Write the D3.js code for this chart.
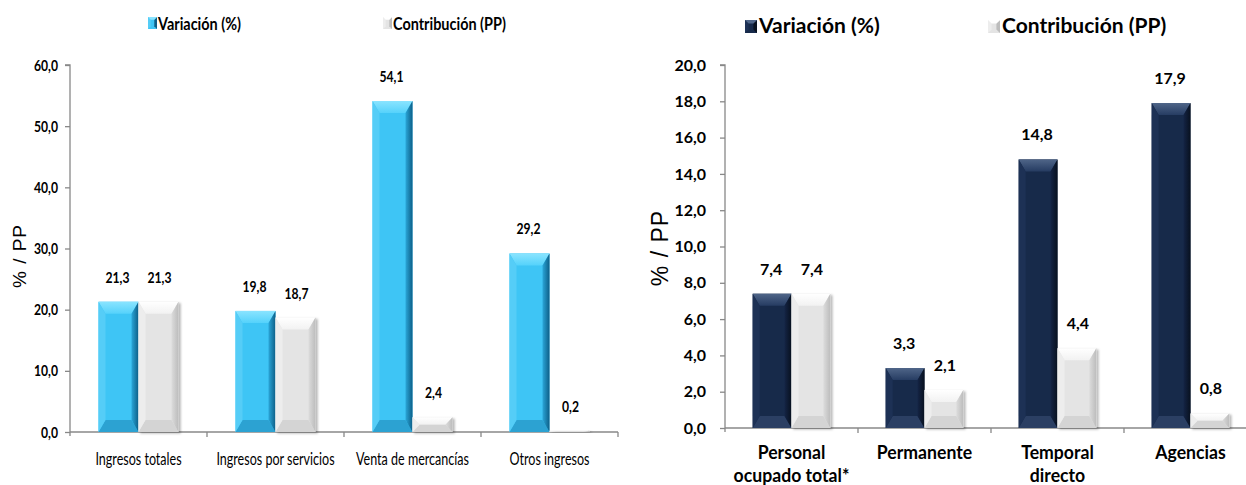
<!DOCTYPE html>
<html><head><meta charset="utf-8">
<script src="https://cdn.jsdelivr.net/npm/d3@7/dist/d3.min.js"></script>
<style>
html,body{margin:0;padding:0;background:#fff;}
svg{display:block;}
</style></head>
<body>
<svg id="chart" width="1246" height="485"></svg>
<script>
// ---- Data ----
const seriesNames = ["Variación (%)", "Contribución (PP)"];
const leftCategories = ["Ingresos totales", "Ingresos por servicios", "Venta de mercancías", "Otros ingresos"];
const leftVariacion = [21.3, 19.8, 54.1, 29.2];
const leftContribucion = [21.3, 18.7, 2.4, 0.2];
const leftTicks = [0, 10, 20, 30, 40, 50, 60];

const rightCategories = [["Personal", "ocupado total*"], ["Permanente"], ["Temporal", "directo"], ["Agencias"]];
const rightVariacion = [7.4, 3.3, 14.8, 17.9];
const rightContribucion = [7.4, 2.1, 4.4, 0.8];
const rightTicks = [0, 2, 4, 6, 8, 10, 12, 14, 16, 18, 20];

const yTitle = "% / PP";

// ---- Setup ----
const svg = d3.select("#chart");
const defs = svg.append("defs");
const fmt = v => d3.format(".1f")(v).replace(".", ",");

const f = defs.append("filter").attr("id", "shadow").attr("x", "-20%").attr("y", "-20%").attr("width", "150%").attr("height", "150%");
f.append("feDropShadow").attr("dx", 2).attr("dy", 1.5).attr("stdDeviation", 1.2).attr("flood-color", "#000").attr("flood-opacity", 0.28);

const palettes = {
  blue: {mid: "#3ec5f5", top: "#8ae4ff", top2: "#55d2fb", left: "#55cdf7", right: "#0d5f88", right2: "#2aa6d8", bottom: "#2ca2d2"},
  navy: {mid: "#172a4a", top: "#4f6588", top2: "#263c62", left: "#1d3155", right: "#08111f", right2: "#142445", bottom: "#2b3f63"},
  gray: {mid: "#e4e4e4", top: "#ffffff", top2: "#f2f2f2", left: "#ededed", right: "#bcbcbc", right2: "#dcdcdc", bottom: "#d4d4d4"}
};
Object.entries(palettes).forEach(([k, p]) => {
  const gt = defs.append("linearGradient").attr("id", "top-" + k).attr("x1", 0).attr("y1", 0).attr("x2", 0).attr("y2", 1);
  gt.append("stop").attr("offset", "0%").attr("stop-color", p.top);
  gt.append("stop").attr("offset", "100%").attr("stop-color", p.top2);
  const gr = defs.append("linearGradient").attr("id", "right-" + k).attr("x1", 0).attr("y1", 0).attr("x2", 1).attr("y2", 0);
  gr.append("stop").attr("offset", "0%").attr("stop-color", p.right2);
  gr.append("stop").attr("offset", "100%").attr("stop-color", p.right);
});

function bevelBar(g, x, y, w, h, key, shadow) {
  const p = palettes[key];
  const grp = g.append("g");
  if (shadow) grp.attr("filter", "url(#shadow)");
  if (h <= 0.5) { grp.append("rect").attr("x", x).attr("y", y - 1).attr("width", w).attr("height", 1.5).attr("fill", p.mid); return; }
  const b = Math.min(7, w / 2);
  const bh = Math.min(12, h / 2);
  grp.append("rect").attr("x", x).attr("y", y).attr("width", w).attr("height", h).attr("fill", p.mid);
  const pts = a => a.map(q => q.join(",")).join(" ");
  grp.append("polygon").attr("points", pts([[x, y], [x + w, y], [x + w - b, y + bh], [x + b, y + bh]])).attr("fill", `url(#top-${key})`);
  grp.append("polygon").attr("points", pts([[x, y + h], [x + w, y + h], [x + w - b, y + h - bh], [x + b, y + h - bh]])).attr("fill", p.bottom);
  grp.append("polygon").attr("points", pts([[x, y], [x + b, y + bh], [x + b, y + h - bh], [x, y + h]])).attr("fill", p.left);
  grp.append("polygon").attr("points", pts([[x + w, y], [x + w - b, y + bh], [x + w - b, y + h - bh], [x + w, y + h]])).attr("fill", `url(#right-${key})`);
}

function addText(g, x, y, str, o) {
  return g.append("text")
    .attr("transform", `translate(${x},${y}) scale(${o.sx || 1},1)`)
    .attr("text-anchor", o.anchor || "start")
    .style("font-family", o.font).style("font-size", o.size + "px").style("font-weight", o.weight || "bold")
    .attr("fill", "#000").text(str);
}

function drawChart(cfg) {
  const g = svg.append("g");
  const x0 = d3.scaleBand().domain(d3.range(cfg.cats.length)).range([cfg.left, cfg.left + cfg.step * cfg.cats.length])
    .paddingInner(0.416).paddingOuter(0.208);
  const x1 = d3.scaleBand().domain([0, 1]).range([0, x0.bandwidth()]);
  const y = d3.scaleLinear().domain([0, cfg.max]).range([cfg.bottom, cfg.top]);

  // y axis
  const yAxis = d3.axisLeft(y).tickValues(cfg.ticks).tickFormat(fmt).tickSize(5).tickPadding(cfg.tickPad);
  const ya = g.append("g").attr("transform", `translate(${cfg.left},0)`).call(yAxis);
  ya.select(".domain").attr("stroke", "#888").attr("stroke-width", 1.3).attr("d", `M-5,${cfg.top}H0V${cfg.bottom + 4}`);
  ya.selectAll(".tick line").attr("stroke", "#888").attr("stroke-width", 1.3);
  ya.selectAll(".tick text").attr("fill", "#000").style("font-family", cfg.tick.font).style("font-size", cfg.tick.size + "px").style("font-weight", "bold")
    .attr("x", -(5 + cfg.tickPad) / cfg.tick.sx).attr("transform", `scale(${cfg.tick.sx},1)`);

  // x axis line + separators
  const xEnd = Math.min(cfg.left + cfg.step * cfg.cats.length, 1246);
  const xa = g.append("g");
  xa.append("line").attr("x1", cfg.left).attr("x2", xEnd).attr("y1", cfg.bottom).attr("y2", cfg.bottom).attr("stroke", "#888").attr("stroke-width", 1.5);
  d3.range(1, cfg.cats.length + 1).forEach(i => {
    const sx = x0(i - 1) - x0.step() * x0.paddingOuter() + x0.step();
    if (sx <= 1246) xa.append("line").attr("x1", sx).attr("x2", sx).attr("y1", cfg.bottom).attr("y2", cfg.bottom + 5).attr("stroke", "#888").attr("stroke-width", 1.3);
  });

  // bars
  const series = [cfg.var, cfg.con];
  const keys = [cfg.varKey, "gray"];
  cfg.cats.forEach((c, i) => {
    series.forEach((s, j) => {
      const bx = x0(i) + x1(j);
      const by = y(s[i]);
      bevelBar(g, bx, by, x1.bandwidth(), y(0) - by, keys[j], j === 1);
      addText(g, bx + x1.bandwidth() / 2 + (j === 0 ? -1 : 1), by - cfg.labelGap, fmt(s[i]), Object.assign({anchor: "middle"}, cfg.label));
    });
    const lines = Array.isArray(c) ? c : [c];
    lines.forEach((ln, k) => addText(g, x0(i) + x0.bandwidth() / 2, cfg.catY + k * cfg.catLine, ln, Object.assign({anchor: "middle"}, cfg.cat)));
  });

  // y title
  g.append("text").attr("transform", `translate(${cfg.titleX},${cfg.titleY}) rotate(-90)`).attr("text-anchor", "middle")
    .attr("dominant-baseline", "central").style("letter-spacing", cfg.titleSpacing + "px")
    .style("font-family", "'Liberation Sans', Arial, sans-serif").style("font-size", cfg.titleSize + "px").text(yTitle);

  // legend
  cfg.legend.forEach((L, j) => {
    bevelLegend(g, L.mx, L.my, L.ms, L.mh, keys[j]);
    addText(g, L.tx, L.ty, seriesNames[j], cfg.leg);
  });
}

function bevelLegend(g, x, y, s, h, key) {
  const p = palettes[key];
  g.append("rect").attr("x", x).attr("y", y).attr("width", s).attr("height", h).attr("fill", p.mid);
  const b = s * 0.3;
  g.append("polygon").attr("points", `${x},${y} ${x + b},${y + b} ${x + b},${y + h - b} ${x},${y + h}`).attr("fill", p.left);
  g.append("polygon").attr("points", `${x + s},${y} ${x + s - b},${y + b} ${x + s - b},${y + h - b} ${x + s},${y + h}`).attr("fill", p.right);
  g.append("polygon").attr("points", `${x},${y} ${x + s},${y} ${x + s - b},${y + b} ${x + b},${y + b}`).attr("fill", p.top);
}

const calib = "Lato, 'Open Sans', sans-serif";

drawChart({
  cats: leftCategories, var: leftVariacion, con: leftContribucion, ticks: leftTicks, max: 60,
  left: 70, step: 137, top: 65, bottom: 432, varKey: "blue", tickPad: 7,
  tick: {font: calib, size: 16, sx: 0.76},
  label: {font: calib, size: 16, sx: 0.76, weight: "bold"}, labelGap: 19,
  cat: {font: calib, size: 16.5, sx: 0.76, weight: "normal"}, catY: 465, catLine: 16,
  titleX: 19, titleY: 256, titleSize: 19, titleSpacing: 1,
  leg: {font: calib, size: 17, sx: 0.85, weight: "bold"},
  legend: [{mx: 148, my: 17, ms: 9, mh: 12, tx: 158, ty: 30}, {mx: 383, my: 17, ms: 9, mh: 12, tx: 393, ty: 30}]
});

drawChart({
  cats: rightCategories, var: rightVariacion, con: rightContribucion, ticks: rightTicks, max: 20,
  left: 725, step: 133, top: 65, bottom: 428, varKey: "navy", tickPad: 14,
  tick: {font: calib, size: 16, sx: 1},
  label: {font: calib, size: 16, sx: 1, weight: "bold"}, labelGap: 19,
  cat: {font: calib, size: 18, sx: 0.98, weight: "bold"}, catY: 459, catLine: 23,
  titleX: 660, titleY: 248, titleSize: 23, titleSpacing: 1,
  leg: {font: calib, size: 21, sx: 1, weight: "bold"},
  legend: [{mx: 745, my: 20, ms: 12, mh: 13, tx: 759, ty: 33}, {mx: 988, my: 20, ms: 12, mh: 13, tx: 1002, ty: 33}]
});
</script>
</body></html>
